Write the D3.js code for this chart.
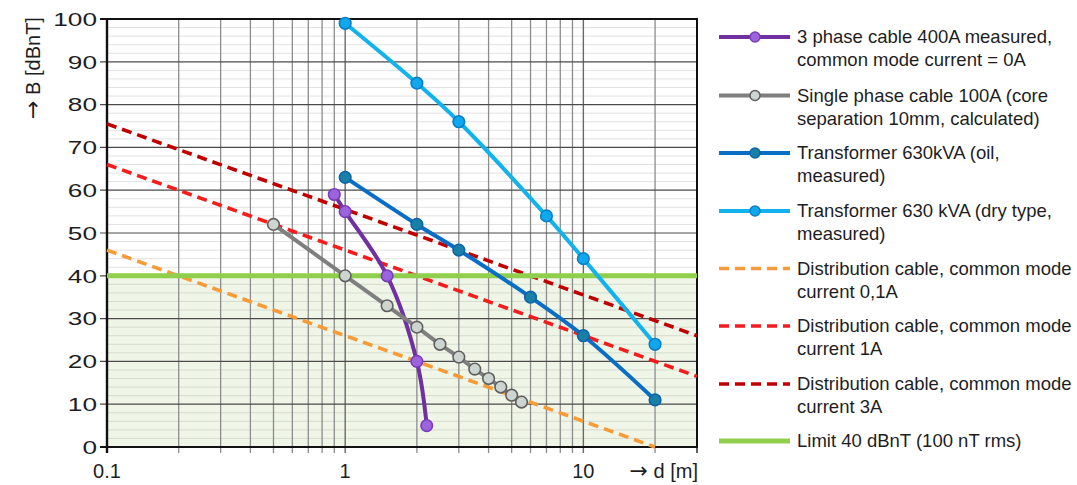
<!DOCTYPE html>
<html><head><meta charset="utf-8">
<script src="https://cdn.jsdelivr.net/npm/d3@7"></script>
<style>
body{margin:0;background:#fff;}
text{font-family:"Liberation Sans",Arial,sans-serif;fill:#1e1e1e;}
.arr{font-family:"DejaVu Sans",sans-serif;}
</style></head>
<body><svg id="c" width="1077" height="485"></svg>
<script>
// ---- data ----
const phase3X = [0.9, 1, 1.5, 2, 2.2];
const phase3Y = [59, 55, 40, 20, 5];
const singleX = [0.5, 1, 1.5, 2, 2.5, 3, 3.5, 4, 4.5, 5, 5.5];
const singleY = [52, 40, 33, 28, 24, 21, 18.2, 16, 14, 12.1, 10.5];
const oilX = [1, 2, 3, 6, 10, 20];
const oilY = [63, 52, 46, 35, 26, 11];
const dryX = [1, 2, 3, 7, 10, 20];
const dryY = [99, 85, 76, 54, 44, 24];
const dist01X = [0.1, 20];
const dist01Y = [46, 0];
const dist1X = [0.1, 30];
const dist1Y = [66, 16.5];
const dist3X = [0.1, 30];
const dist3Y = [75.5, 26];
const limitX = [0.1, 30];
const limitY = [40, 40];
const yTicks = [0, 10, 20, 30, 40, 50, 60, 70, 80, 90, 100];
const xTickLabels = [0.1, 1, 10];
const xMinor = [0.2,0.3,0.4,0.5,0.6,0.7,0.8,0.9,2,3,4,5,6,7,8,9,20];
const xMajor = [1, 10];
const legendLabels = [
  ["3 phase cable 400A measured,", "common mode current = 0A"],
  ["Single phase cable 100A (core", "separation 10mm, calculated)"],
  ["Transformer 630kVA (oil,", "measured)"],
  ["Transformer 630 kVA (dry type,", "measured)"],
  ["Distribution cable, common mode", "current 0,1A"],
  ["Distribution cable, common mode", "current 1A"],
  ["Distribution cable, common mode", "current 3A"],
  ["Limit 40 dBnT (100 nT rms)"]
];

const svg = d3.select("#c");
const L = 107, R = 697, T = 19, B = 447;
const x = d3.scaleLog().domain([0.1, 30]).range([L, R]);
const y = d3.scaleLinear().domain([0, 100]).range([B, T]);

// green area below limit
svg.append("rect").attr("x", L).attr("y", y(40)).attr("width", R - L).attr("height", B - y(40)).attr("fill", "#f0f6e7");

// horizontal minor grid
const g = svg.append("g");
d3.range(0, 101, 2).forEach(v => {
  if (v % 10 === 0) return;
  g.append("line").attr("x1", L).attr("x2", R).attr("y1", y(v)).attr("y2", y(v))
    .attr("stroke", v < 40 ? "#d5dbce" : "#e2e2e2").attr("stroke-width", 1);
});
// vertical grid
xMinor.forEach(v => g.append("line").attr("x1", x(v)).attr("x2", x(v)).attr("y1", T).attr("y2", B + 6)
  .attr("stroke", "#8c8c8c").attr("stroke-width", 1.3));
xMajor.forEach(v => g.append("line").attr("x1", x(v)).attr("x2", x(v)).attr("y1", T).attr("y2", B + 6)
  .attr("stroke", "#6a6a6a").attr("stroke-width", 1.4));
g.append("line").attr("x1", R).attr("x2", R).attr("y1", B).attr("y2", B + 6).attr("stroke", "#222").attr("stroke-width", 1.4);
// horizontal major grid
yTicks.forEach(v => g.append("line").attr("x1", L - 7).attr("x2", R).attr("y1", y(v)).attr("y2", y(v))
  .attr("stroke", v === 0 || v === 100 ? "#111" : "#4a4a4a").attr("stroke-width", v === 0 || v === 100 ? 2 : 1.2));

// frame
svg.append("rect").attr("x", L).attr("y", T).attr("width", R - L).attr("height", B - T)
  .attr("fill", "none").attr("stroke", "#111").attr("stroke-width", 2);
svg.append("line").attr("x1", L).attr("x2", L).attr("y1", T).attr("y2", B + 6).attr("stroke", "#111").attr("stroke-width", 2.4);

// axis labels
yTicks.forEach(v => svg.append("text").attr("transform", `translate(97,${y(v)}) scale(1.38,1)`).attr("dy", "0.36em")
  .attr("text-anchor", "end").attr("font-size", 19).text(v));
xTickLabels.forEach(v => svg.append("text").attr("x", x(v)).attr("y", 478)
  .attr("text-anchor", "middle").attr("font-size", 20).text(v));
const xt = svg.append("text").attr("x", 698).attr("y", 478).attr("text-anchor", "end").attr("font-size", 20);
xt.append("tspan").attr("class", "arr").attr("font-size", 22).text("\u2192");
xt.append("tspan").text("  d [m]");
const yt = svg.append("text").attr("transform", "translate(40,68) rotate(-90)").attr("text-anchor", "middle")
  .attr("font-size", 20);
yt.append("tspan").attr("class", "arr").attr("font-size", 22).text("\u2192");
yt.append("tspan").text(" B [dBnT]");

// series
const mk = (xs, ys) => xs.map((v, i) => [v, ys[i]]);
const lineStraight = d3.line().x(d => x(d[0])).y(d => y(d[1]));
const lineSmooth = d3.line().x(d => x(d[0])).y(d => y(d[1])).curve(d3.curveCatmullRom.alpha(0.5));

const dashed = [
  {xs: dist01X, ys: dist01Y, c: "#f79b38"},
  {xs: dist1X, ys: dist1Y, c: "#f41d1d"},
  {xs: dist3X, ys: dist3Y, c: "#c00000"}
];
dashed.forEach(s => svg.append("path").attr("d", lineStraight(mk(s.xs, s.ys))).attr("fill", "none")
  .attr("stroke", s.c).attr("stroke-width", 3.6).attr("stroke-dasharray", "10,6"));

svg.append("path").attr("d", lineStraight(mk(limitX, limitY))).attr("fill", "none")
  .attr("stroke", "#8fcf4b").attr("stroke-width", 5);

const series = [
  {xs: phase3X, ys: phase3Y, c: "#7030a0", mf: "#9b63dc", ms: "#7a3cb8"},
  {xs: singleX, ys: singleY, c: "#7f7f7f", mf: "#cdd5d0", ms: "#5f5f5f"},
  {xs: oilX, ys: oilY, c: "#0a6ec4", mf: "#1a7fa6", ms: "#0d65a8"},
  {xs: dryX, ys: dryY, c: "#12b2ec", mf: "#0fa8ec", ms: "#0a7fc6"}
];
series.forEach(s => {
  const pts = mk(s.xs, s.ys);
  svg.append("path").attr("d", lineSmooth(pts)).attr("fill", "none").attr("stroke", s.c).attr("stroke-width", 4);
  svg.selectAll(null).data(pts).enter().append("circle")
    .attr("cx", d => x(d[0])).attr("cy", d => y(d[1])).attr("r", 5.8)
    .attr("fill", s.mf).attr("stroke", s.ms).attr("stroke-width", 1.6);
});

// legend
const legY = [37, 95.5, 153, 211, 268.5, 326, 384, 441];
const legStyle = [
  {c: series[0].c, mf: series[0].mf, ms: series[0].ms},
  {c: series[1].c, mf: series[1].mf, ms: series[1].ms},
  {c: series[2].c, mf: series[2].mf, ms: series[2].ms},
  {c: series[3].c, mf: series[3].mf, ms: series[3].ms},
  {c: dashed[0].c, dash: true},
  {c: dashed[1].c, dash: true},
  {c: dashed[2].c, dash: true},
  {c: "#8fcf4b", w: 5}
];
legendLabels.forEach((lines, i) => {
  const st = legStyle[i], ly = legY[i];
  svg.append("line").attr("x1", 719).attr("x2", 790).attr("y1", ly).attr("y2", ly)
    .attr("stroke", st.c).attr("stroke-width", st.w || (st.dash ? 3.6 : 4))
    .attr("stroke-dasharray", st.dash ? "10,6" : null);
  if (st.mf) svg.append("circle").attr("cx", 755).attr("cy", ly).attr("r", 5)
    .attr("fill", st.mf).attr("stroke", st.ms).attr("stroke-width", 1.5);
  lines.forEach((t, j) => svg.append("text").attr("x", 797).attr("y", ly + 6 + j * 23)
    .attr("font-size", 18.5).text(t));
});
</script></body></html>
